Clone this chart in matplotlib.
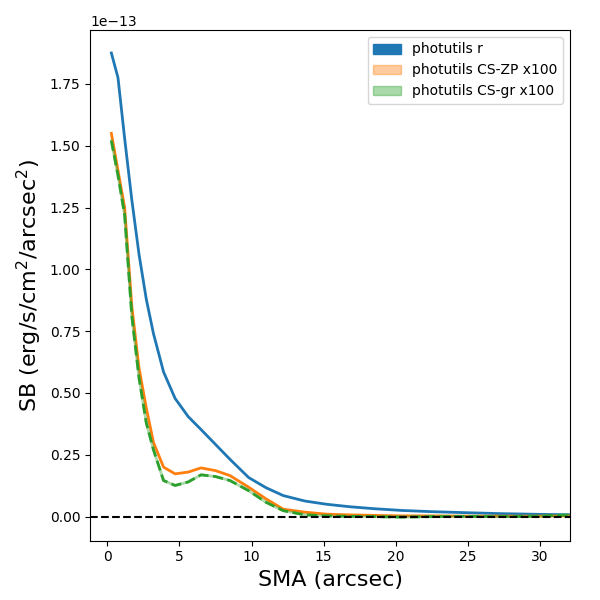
import numpy as np
import matplotlib
matplotlib.use('Agg')
from matplotlib import pyplot as plt
from matplotlib.patches import Patch

# semi-major axis (arcsec)
sma=[0.28,0.74,1.2,1.7,2.2,2.7,3.2,3.9,4.7,5.6,6.5,7.5,8.5,9.8,11.0,12.2,13.7,15.2,16.8,18.5,20.4,22.5,24.8,27.3,30.1,32.5]
# surface brightness, units of 1e-13
sb_r=[1.875,1.775,1.53,1.28,1.06,0.88,0.74,0.585,0.478,0.405,0.352,0.292,0.232,0.158,0.117,0.085,0.063,0.050,0.040,0.032,0.025,0.020,0.016,0.012,0.009,0.007]
sb_zp=[1.55,1.40,1.25,0.85,0.60,0.44,0.30,0.20,0.173,0.18,0.197,0.186,0.166,0.119,0.072,0.030,0.018,0.010,0.007,0.005,0.003,0.003,0.002,0.002,0.002,0.003]
sb_gr=[1.52,1.38,1.22,0.81,0.56,0.38,0.27,0.146,0.126,0.140,0.169,0.162,0.146,0.105,0.058,0.024,0.007,0.003,0.001,0.0,-0.002,0.0,0.001,0.0,0.002,0.008]

labels=['photutils r','photutils CS-ZP x100','photutils CS-gr x100']

x=np.array(sma)
r=np.array(sb_r)*1e-13
zp=np.array(sb_zp)*1e-13
gr=np.array(sb_gr)*1e-13

fig=plt.figure(figsize=(6,6),dpi=100)
ax=fig.add_axes([0.1505,0.099,0.7995,0.851])

ax.plot(x,r,color='C0',lw=2)
ax.plot(x,zp,color='C1',lw=2)
ax.plot(x,gr,color='C2',lw=2,alpha=0.4)
ax.plot(x,gr,color='C2',lw=2,ls='--')
ax.axhline(0,color='k',ls='--',lw=1.5)

ax.set_xlim(-1.18,32.08)
ax.set_ylim(-0.097e-13,1.968e-13)
ax.set_xlabel('SMA (arcsec)',fontsize=16)
ax.set_ylabel('SB (erg/s/cm$^2$/arcsec$^2$)',fontsize=16)

handles=[Patch(color='C0',label=labels[0]),
	Patch(color='C1',alpha=0.4,label=labels[1]),
	Patch(color='C2',alpha=0.4,label=labels[2])]
ax.legend(handles=handles,loc='upper right')

fig.savefig('out.png',dpi=100)
